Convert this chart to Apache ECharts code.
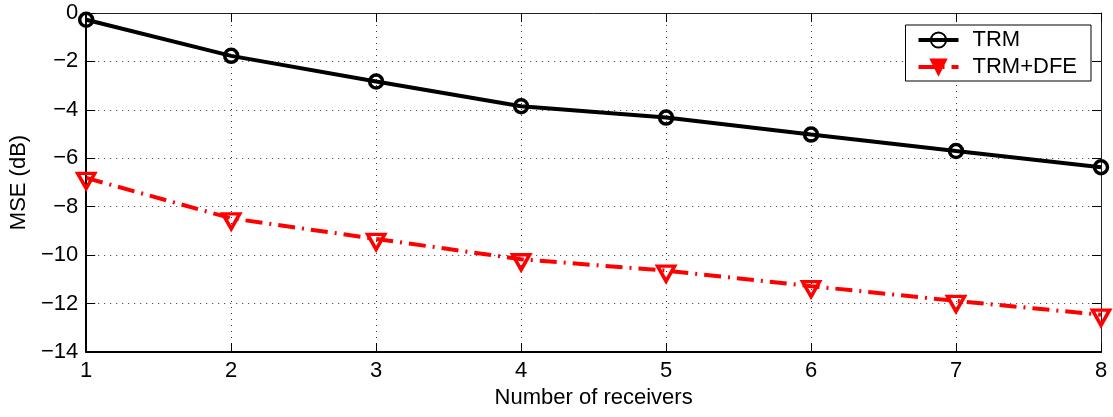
<!DOCTYPE html>
<html>
<head>
<meta charset="utf-8">
<title>MSE vs number of receivers</title>
<script src="https://cdn.jsdelivr.net/npm/echarts@6/dist/echarts.min.js"></script>
<style>
  html, body { margin: 0; padding: 0; background: #fff; }
  #chart { width: 1113px; height: 417px; }
</style>
</head>
<body>
<div id="chart"></div>
<script>
// Number of receivers on the x axis
const receivers = [1, 2, 3, 4, 5, 6, 7, 8];
// MSE in dB for each equalizer configuration
const mseTRM = [-0.28, -1.77, -2.83, -3.85, -4.32, -5.02, -5.70, -6.37];
const mseTRMDFE = [-6.81, -8.48, -9.33, -10.17, -10.64, -11.28, -11.89, -12.46];
const seriesNames = ['TRM', 'TRM+DFE'];

const FONT = '"Liberation Sans", Arial, Helvetica, sans-serif';
const minusFmt = v => (v < 0 ? '\u2212' + Math.abs(v) : String(v));

const pairs = (xs, ys) => xs.map((x, i) => [x, ys[i]]);

const dotted = { show: true, lineStyle: { color: '#333', width: 1, type: [1, 5] } };

const chart = echarts.init(document.getElementById('chart'), null, { renderer: 'canvas' });

chart.setOption({
  animation: false,
  backgroundColor: '#fff',
  textStyle: { fontFamily: FONT, color: '#000' },
  grid: { left: 85, right: 12, top: 13, bottom: 65, containLabel: false },
  legend: {
    orient: 'vertical',
    right: 22,
    top: 25,
    padding: [4, 14, 3, 11],
    itemGap: 5,
    itemWidth: 40,
    itemHeight: 19,
    backgroundColor: '#fff',
    borderColor: '#000',
    borderWidth: 1,
    borderRadius: 0,
    textStyle: { fontFamily: FONT, fontSize: 22, color: '#000', lineHeight: 22, padding: [0, 0, 0, 9] },
    data: [
      { name: seriesNames[0], lineStyle: { width: 4 } },
      { name: seriesNames[1], lineStyle: { width: 4 }, itemStyle: { color: '#ff0000' } }
    ]
  },
  xAxis: [
    {
      type: 'value',
      position: 'bottom',
      min: 1, max: 8, interval: 1,
      name: 'Number of receivers',
      nameLocation: 'middle',
      nameGap: 34,
      nameTextStyle: { fontFamily: FONT, fontSize: 22, color: '#000' },
      axisLine: { onZero: false, lineStyle: { color: '#000', width: 2 } },
      axisTick: { inside: true, length: 9, lineStyle: { color: '#000', width: 1 } },
      axisLabel: { fontFamily: FONT, fontSize: 22, color: '#000', margin: 8 },
      splitLine: dotted
    },
    {
      type: 'value',
      position: 'top',
      min: 1, max: 8, interval: 1,
      axisLine: { onZero: false, lineStyle: { color: '#222', width: 1 } },
      axisTick: { inside: true, length: 9, lineStyle: { color: '#000', width: 1 } },
      axisLabel: { show: false },
      splitLine: { show: false }
    }
  ],
  yAxis: [
    {
      type: 'value',
      position: 'left',
      min: -14, max: 0, interval: 2,
      name: 'MSE (dB)',
      nameLocation: 'middle',
      nameGap: 48,
      nameTextStyle: { fontFamily: FONT, fontSize: 22, color: '#000' },
      axisLine: { onZero: false, lineStyle: { color: '#000', width: 2 } },
      axisTick: { inside: true, length: 9, lineStyle: { color: '#000', width: 1 } },
      axisLabel: { fontFamily: FONT, fontSize: 22, color: '#000', margin: 8, formatter: minusFmt },
      splitLine: dotted
    },
    {
      type: 'value',
      position: 'right',
      min: -14, max: 0, interval: 2,
      axisLine: { onZero: false, lineStyle: { color: '#222', width: 1 } },
      axisTick: { inside: true, length: 9, lineStyle: { color: '#000', width: 1 } },
      axisLabel: { show: false },
      splitLine: { show: false }
    }
  ],
  series: [
    {
      name: seriesNames[0],
      type: 'line',
      xAxisIndex: 0,
      yAxisIndex: 0,
      data: pairs(receivers, mseTRM),
      symbol: 'circle',
      symbolSize: 13,
      showAllSymbol: true,
      lineStyle: { color: '#000', width: 4, type: 'solid' },
      itemStyle: { color: 'rgba(255,255,255,0)', borderColor: '#000', borderWidth: 3.5 },
      emphasis: { disabled: true },
      z: 3
    },
    {
      name: seriesNames[1],
      type: 'line',
      xAxisIndex: 0,
      yAxisIndex: 0,
      data: pairs(receivers, mseTRMDFE),
      symbol: 'triangle',
      symbolRotate: 180,
      symbolSize: [17, 15],
      symbolOffset: [0, 3],
      showAllSymbol: true,
      lineStyle: { color: '#ff0000', width: 4, type: [17, 7, 2, 7] },
      itemStyle: { color: 'rgba(255,255,255,0)', borderColor: '#ff0000', borderWidth: 3.5 },
      emphasis: { disabled: true },
      z: 3
    }
  ]
});
</script>
</body>
</html>
